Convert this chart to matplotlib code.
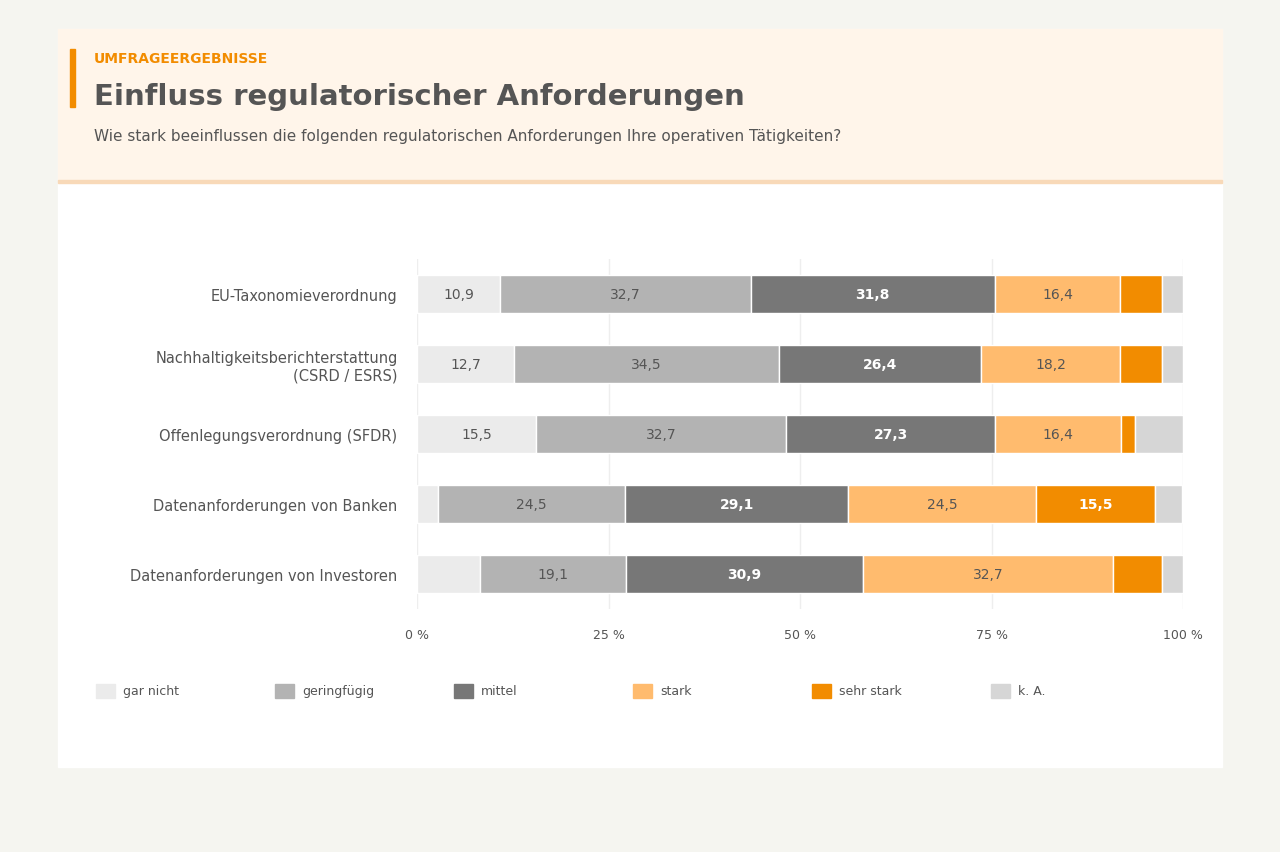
from matplotlib import pyplot as plt
from matplotlib.patches import Rectangle
import numpy as np

kategorien = ["EU-Taxonomieverordnung",
              "Nachhaltigkeitsberichterstattung\n(CSRD / ESRS)",
              "Offenlegungsverordnung (SFDR)",
              "Datenanforderungen von Banken",
              "Datenanforderungen von Investoren"]
stufen = ["gar nicht", "geringfügig", "mittel", "stark", "sehr stark", "k. A."]
gar_nicht = [10.9, 12.7, 15.5, 2.7, 8.2]
geringfuegig = [32.7, 34.5, 32.7, 24.5, 19.1]
mittel = [31.8, 26.4, 27.3, 29.1, 30.9]
stark = [16.4, 18.2, 16.4, 24.5, 32.7]
sehr_stark = [5.5, 5.5, 1.8, 15.5, 6.4]
k_a = [2.7, 2.7, 6.3, 3.6, 2.7]
serien = [gar_nicht, geringfuegig, mittel, stark, sehr_stark, k_a]

farben = ["#ebebeb", "#b3b3b3", "#777777", "#ffbb6e", "#f28c00", "#d6d6d6"]
fett = [False, False, True, False, True, False]
grau = "#555555"

W, H = 1280, 853
fig = plt.figure(figsize=(W / 100, H / 100), dpi=100, facecolor="#f5f5f0")


def box(x0, y0, x1, y1, **kw):
    # Pixelkoordinaten von oben links
    fig.patches.append(Rectangle((x0 / W, 1 - y1 / H), (x1 - x0) / W, (y1 - y0) / H,
                                 transform=fig.transFigure, **kw))


box(58, 30, 1222, 768, color="white", zorder=-3)
box(58, 30, 1222, 182, color="#fff5ea", zorder=-2)
box(58, 181, 1222, 184, color="#f8d9b8", zorder=-1)
box(70, 50, 75, 108, color="#f28c00", zorder=-1)

fig.text(94 / W, 1 - 59 / H, "UMFRAGEERGEBNISSE", color="#f28c00", fontsize=10,
         fontweight="bold", va="center")
fig.text(94 / W, 1 - 97 / H, "Einfluss regulatorischer Anforderungen", color=grau,
         fontsize=21, fontweight="bold", va="center")
fig.text(94 / W, 1 - 137 / H,
         "Wie stark beeinflussen die folgenden regulatorischen Anforderungen Ihre operativen Tätigkeiten?",
         color=grau, fontsize=11, va="center")

ax = fig.add_axes([417 / W, 1 - 610 / H, (1183 - 417) / W, 350 / H])
ax.set_facecolor("none")
y = np.arange(len(kategorien))
links = np.zeros(len(kategorien))
for name, werte, farbe, f in zip(stufen, serien, farben, fett):
    werte = np.array(werte)
    ax.barh(y, werte, left=links, height=0.54, color=farbe, edgecolor="white",
            linewidth=1, zorder=2)
    for yi, l, w in zip(y, links, werte):
        if w >= 10:
            ax.text(l + w / 2, yi, f"{w:.1f}".replace(".", ","), ha="center", va="center",
                    fontsize=10, color="white" if f else grau,
                    fontweight="bold" if f else "normal", zorder=3)
    links += werte

ax.set_ylim(len(kategorien) - 0.5, -0.5)
ax.set_xlim(0, 100)
ax.set_yticks(y)
ax.set_yticklabels(kategorien, fontsize=10.5, color=grau)
ax.set_xticks([0, 25, 50, 75, 100])
ax.set_xticklabels(["0 %", "25 %", "50 %", "75 %", "100 %"], fontsize=9, color=grau)
ax.tick_params(length=0, pad=14)
ax.tick_params(axis="x", pad=14)
for s in ax.spines.values():
    s.set_visible(False)
ax.grid(axis="x", color="#eeeeee", linewidth=1, zorder=0)
ax.set_axisbelow(True)

for i, (name, farbe) in enumerate(zip(stufen, farben)):
    x0 = 96 + i * 179
    box(x0, 685, x0 + 19, 699, color=farbe, zorder=1)
    fig.text((x0 + 27) / W, 1 - 692 / H, name, fontsize=9, color=grau, va="center")

fig.savefig("out.png", dpi=100, facecolor=fig.get_facecolor())
